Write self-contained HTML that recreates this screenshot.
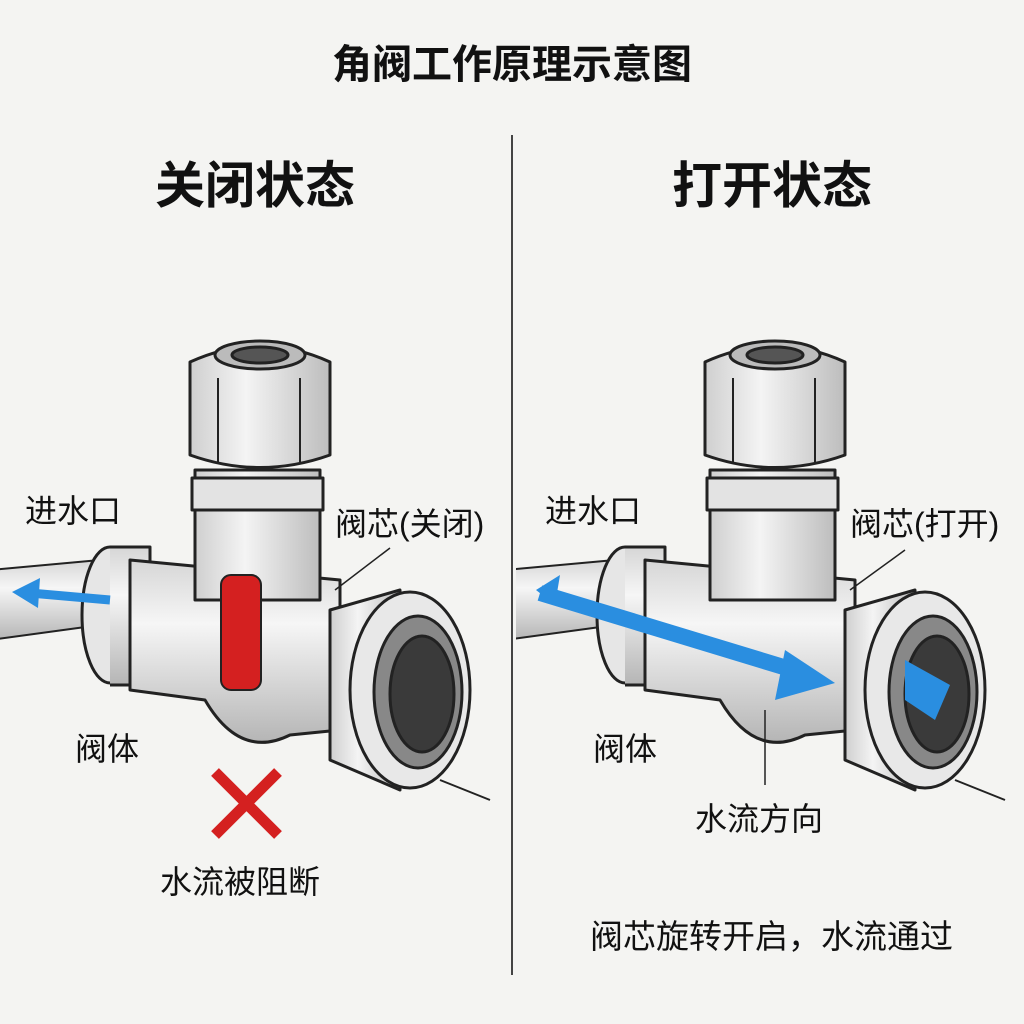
<!DOCTYPE html>
<html><head><meta charset="utf-8"><style>
html,body{margin:0;padding:0;background:#f4f4f2;}
svg{display:block}
text{font-family:"Liberation Sans","Noto Sans CJK SC",sans-serif;fill:#111}
</style></head><body>
<svg width="1024" height="1024" viewBox="0 0 1024 1024" xmlns="http://www.w3.org/2000/svg">
<defs>
<linearGradient id="metal" x1="0" y1="0" x2="1" y2="0">
<stop offset="0" stop-color="#cfcfcf"/><stop offset="0.4" stop-color="#f4f4f4"/><stop offset="1" stop-color="#bdbdbd"/>
</linearGradient>
<linearGradient id="metalv" x1="0" y1="0" x2="0" y2="1">
<stop offset="0" stop-color="#d6d6d6"/><stop offset="0.35" stop-color="#f6f6f6"/><stop offset="1" stop-color="#b5b5b5"/>
</linearGradient>
<clipPath id="rc"><rect x="516" y="0" width="510" height="1024"/></clipPath>
<g id="valve" stroke="#222" stroke-width="3" stroke-linejoin="round">
<path d="M-10 570 L100 560 L100 625 L-10 640 Z" fill="url(#metalv)" stroke-width="2"/>
<ellipse cx="110" cy="615" rx="28" ry="68" fill="#e6e6e6"/>
<path d="M110 547 L150 547 L150 685 L110 685" fill="url(#metalv)"/>
<path d="M130 560 L340 580 L340 730 L290 735 Q240 760 205 700 L130 690 Z" fill="url(#metalv)"/>
<path d="M195 470 L320 470 L320 600 L195 600 Z" fill="url(#metal)"/>
<path d="M192 478 L323 478 L323 510 L192 510 Z" fill="#e3e3e3"/>
<path d="M190 362 Q260 330 330 362 L330 455 Q260 480 190 455 Z" fill="url(#metal)"/>
<line x1="218" y1="378" x2="218" y2="462" stroke-width="2"/>
<line x1="300" y1="378" x2="300" y2="462" stroke-width="2"/>
<ellipse cx="260" cy="355" rx="45" ry="14" fill="#bbb"/>
<ellipse cx="260" cy="355" rx="28" ry="8" fill="#555"/>
<path d="M330 610 L400 590 L400 790 L330 760 Z" fill="url(#metal)"/>
<ellipse cx="410" cy="690" rx="60" ry="98" fill="#e8e8e8"/>
<ellipse cx="418" cy="692" rx="44" ry="76" fill="#888"/>
<ellipse cx="422" cy="694" rx="32" ry="58" fill="#3a3a3a"/>
<line x1="440" y1="780" x2="490" y2="800" stroke-width="2"/>
</g>
</defs>

<text x="512" y="78" font-size="40" font-weight="bold" text-anchor="middle">角阀工作原理示意图</text>
<line x1="512" y1="135" x2="512" y2="975" stroke="#444" stroke-width="2"/>
<text x="255" y="203" font-size="50" font-weight="bold" text-anchor="middle">关闭状态</text>
<text x="772" y="203" font-size="50" font-weight="bold" text-anchor="middle">打开状态</text>

<use href="#valve"/>
<rect x="221" y="575" width="40" height="115" rx="10" fill="#d42020" stroke="#222" stroke-width="2"/>
<path d="M110 600 L30 593" stroke="#2a8ee0" stroke-width="9"/>
<path d="M12 592 L40 578 L38 608 Z" fill="#2a8ee0"/>
<line x1="335" y1="590" x2="390" y2="548" stroke="#222" stroke-width="1.5"/>
<path d="M215 772 L278 835 M278 772 L215 835" stroke="#d42020" stroke-width="11"/>
<text x="25" y="522" font-size="32">进水口</text>
<text x="335" y="535" font-size="32">阀芯(关闭)</text>
<text x="75" y="760" font-size="32">阀体</text>
<text x="160" y="893" font-size="32">水流被阻断</text>

<g clip-path="url(#rc)"><use href="#valve" transform="translate(515,0)"/></g>
<path d="M540 593 L800 672" stroke="#2a8ee0" stroke-width="16"/>
<path d="M835 683 L785 650 L775 700 Z" fill="#2a8ee0"/>
<path d="M536 590 L560 575 L555 605 Z" fill="#2a8ee0"/>
<path d="M905 660 L950 685 L935 720 L905 700 Z" fill="#2a8ee0"/>
<line x1="850" y1="590" x2="905" y2="550" stroke="#222" stroke-width="1.5"/>
<line x1="765" y1="710" x2="765" y2="785" stroke="#222" stroke-width="1.5"/>
<text x="545" y="522" font-size="32">进水口</text>
<text x="850" y="535" font-size="32">阀芯(打开)</text>
<text x="593" y="760" font-size="32">阀体</text>
<text x="695" y="830" font-size="32">水流方向</text>
<text x="590" y="948" font-size="33">阀芯旋转开启，水流通过</text>
</svg>
</body></html>
